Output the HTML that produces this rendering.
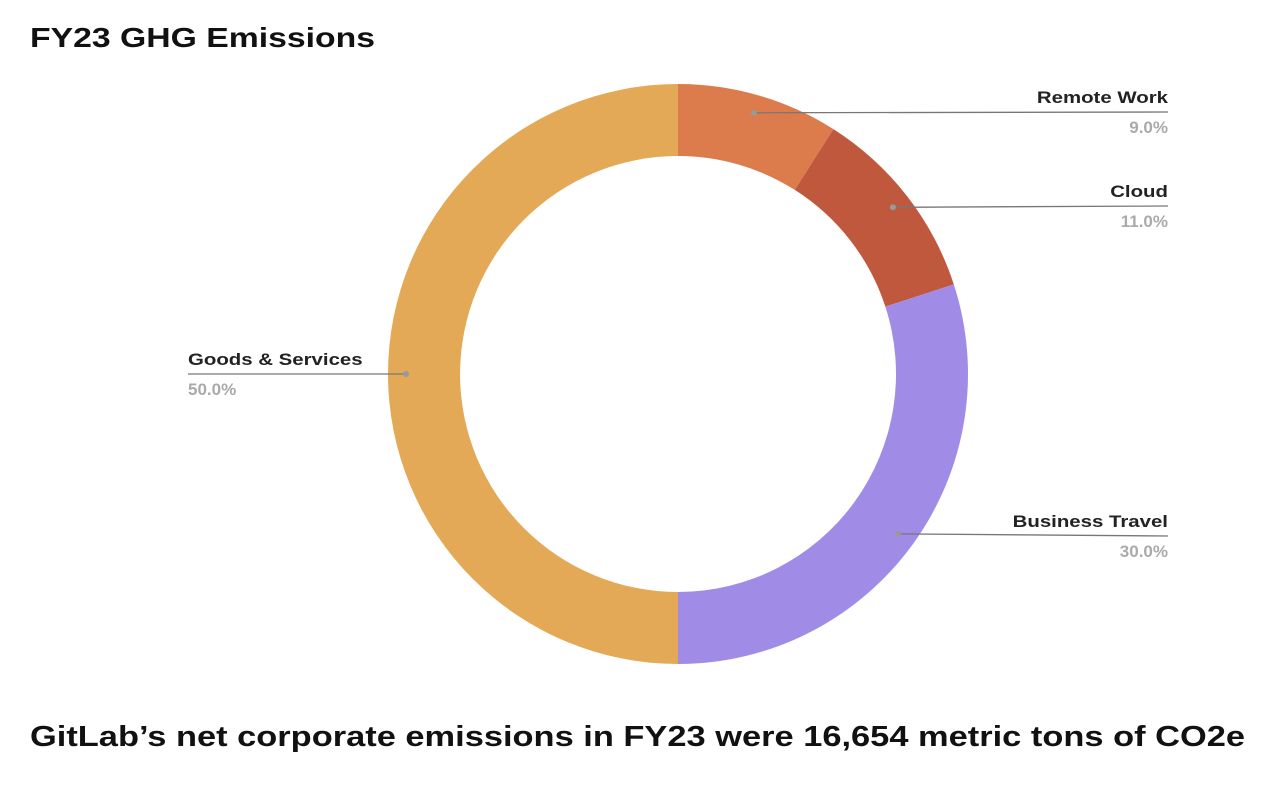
<!DOCTYPE html>
<html><head><meta charset="utf-8">
<style>
html,body{margin:0;padding:0;background:#fff;}
body{width:1276px;height:782px;overflow:hidden;font-family:"Liberation Sans",Arial,sans-serif;}
</style></head>
<body>
<svg width="1276" height="782" viewBox="0 0 1276 782">
  <text x="30" y="47" font-size="28" font-weight="bold" fill="#111" textLength="345" lengthAdjust="spacingAndGlyphs">FY23 GHG Emissions</text>
  <g id="slices"></g>
  <g id="labels"></g>
  <text x="30" y="746" font-size="29" font-weight="bold" fill="#111" textLength="1215" lengthAdjust="spacingAndGlyphs">GitLab’s net corporate emissions in FY23 were 16,654 metric tons of CO2e</text>
</svg>
<script>
const categories = ["Remote Work","Cloud","Business Travel","Goods & Services"];
const values = [9.0, 11.0, 30.0, 50.0];
const colors = ["#DC7C4C","#C0583E","#A08CE6","#E4A957"];
const labelY = [112, 206, 536, 374];

const cx=678, cy=374, R=290, r=218, rd=272;
const NS="http://www.w3.org/2000/svg";
const total = values.reduce((a,b)=>a+b,0);
const sg=document.getElementById('slices'), lg=document.getElementById('labels');
function pt(rad,a){return [cx+rad*Math.sin(a), cy-rad*Math.cos(a)];}
let acc=0;
values.forEach((v,i)=>{
  const a0=acc/total*2*Math.PI, a1=(acc+v)/total*2*Math.PI; acc+=v;
  const large=(a1-a0)>Math.PI?1:0;
  const [x0,y0]=pt(R,a0),[x1,y1]=pt(R,a1),[x2,y2]=pt(r,a1),[x3,y3]=pt(r,a0);
  const p=document.createElementNS(NS,'path');
  p.setAttribute('d',`M${x0},${y0} A${R},${R} 0 ${large} 1 ${x1},${y1} L${x2},${y2} A${r},${r} 0 ${large} 0 ${x3},${y3} Z`);
  p.setAttribute('fill',colors[i]);
  
  
  sg.appendChild(p);
  const am=(a0+a1)/2, [dx,dy]=pt(rd,am);
  const right = Math.sin(am)>=0;
  const ly=labelY[i];
  const ex = right?1168:188;
  const ln=document.createElementNS(NS,'path');
  ln.setAttribute('d',`M${dx},${dy} L${ex},${ly}`);
  ln.setAttribute('stroke','#777');ln.setAttribute('stroke-width','1.3');ln.setAttribute('fill','none');
  
  
  lg.appendChild(ln);
  const c=document.createElementNS(NS,'circle');
  c.setAttribute('cx',dx);c.setAttribute('cy',dy);c.setAttribute('r',3);c.setAttribute('fill','#999');
  
  
  lg.appendChild(c);
  const t=document.createElementNS(NS,'text');
  t.setAttribute('x',ex);t.setAttribute('y',ly-9);t.setAttribute('font-size','17');t.setAttribute('font-weight','bold');
  t.setAttribute('fill','#222');t.setAttribute('text-anchor',right?'end':'start');
  t.textContent=categories[i];
  
  
  lg.appendChild(t);
  const w=t.getComputedTextLength();
  t.setAttribute('textLength',w*1.2);t.setAttribute('lengthAdjust','spacingAndGlyphs');
  const t2=document.createElementNS(NS,'text');
  t2.setAttribute('x',ex);t2.setAttribute('y',ly+21);t2.setAttribute('font-size','17');t2.setAttribute('font-weight','bold');
  t2.setAttribute('fill','#aaa');t2.setAttribute('text-anchor',right?'end':'start');
  t2.textContent=v.toFixed(1)+'%';
  
  
  lg.appendChild(t2);
});
</script>
</body></html>
